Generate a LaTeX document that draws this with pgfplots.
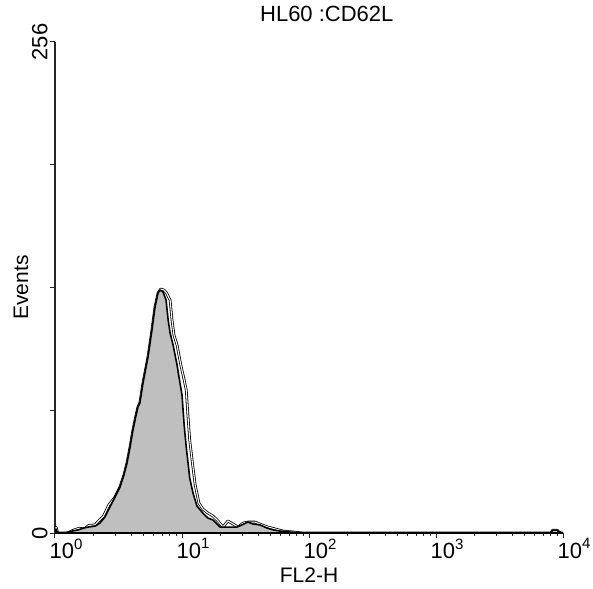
\documentclass[border=0pt]{standalone}
\usepackage{pgfplots}
\pgfplotsset{compat=1.18}
\usepackage{pgfplotstable}
\usepackage{fontspec}
\setmainfont{Liberation Sans}

\pgfplotstableread{
x y
1.00 0
1.018 2.1
1.05 0
1.20 0
1.36 1.0
1.52 1.6
1.69 2.6
1.82 3.1
2.07 3.6
2.26 5.2
2.47 8.3
2.71 13.6
2.97 18.8
3.25 24.0
3.49 30.2
3.69 36.5
3.90 44.8
4.11 53.7
4.35 61.5
4.50 65.7
4.66 67.8
4.93 78.2
5.40 91.8
5.80 105.8
6.13 117.8
6.48 125.1
6.72 126.7
7.09 125.7
7.49 121.5
7.78 111.1
8.06 104.3
8.51 98.0
9.14 87.6
9.64 78.2
10.0 72.0
10.4 56.3
10.8 44.8
11.2 35.5
11.5 28.7
12.2 20.9
13.1 14.1
14.6 10.4
16.0 7.8
17.5 6.8
19.9 3.1
23.9 3.1
27.1 3.1
29.6 4.2
33.0 5.7
36.2 4.7
41.1 4.2
46.7 2.6
52.2 1.6
59.3 1.0
71.0 0.5
85.0 0
8000 0
8300 1.5
9000 1.5
9300 0.5
9700 0
10000 0
}\filled

\pgfplotstableread{
x y
1.00 0
1.02 3
1.05 0
1.25 0
1.40 1.5
1.55 2.5
1.70 2.1
1.85 4.0
2.07 4.2
2.20 6.3
2.40 8.6
2.65 14.6
2.97 18.8
3.25 24.0
3.49 30.2
3.69 36.5
3.90 44.8
4.11 53.7
4.35 61.5
4.50 65.7
4.66 67.8
4.93 78.2
5.40 91.8
5.80 105.8
6.13 117.8
6.48 125.1
6.80 127.2
7.20 126.7
7.55 125.2
8.06 121.5
8.34 111.1
8.65 103.2
9.14 98.0
9.79 87.6
10.4 79.8
10.8 74.6
11.2 58.9
11.5 48.5
12.0 38.1
12.7 25.0
13.6 15.6
14.6 12.5
16.0 10.4
17.5 8.9
19.2 6.3
21.0 3.1
23.0 6.3
25.2 4.7
27.6 3.1
30.3 5.2
33.0 5.7
37.6 5.7
42.8 4.2
47.6 3.1
54.2 2.1
62.6 1.0
75.1 0.5
89.6 0
8000 0
8300 1.5
9000 1.5
9300 0.5
9700 0
10000 0
}\open

\newcommand{\sx}[1]{\raisebox{0.45em}{\fontsize{15}{16}\selectfont #1}}

\begin{document}
\begin{tikzpicture}
\begin{axis}[
  name=ax,
  scale only axis,
  width=508pt, height=491pt,
  xmode=log, xmin=1, xmax=10000,
  ymin=0, ymax=256,
  axis lines*=left,
  axis line style={black!85, line width=1.3pt},
  tick align=outside,
  major tick length=5pt, minor tick length=3pt,
  every tick/.style={black!85, line width=1pt},
  xtick={1,10,100,1000,10000},
  xticklabels={10\sx{0},10\sx{1},10\sx{2},10\sx{3},10\sx{4}},
  minor xtick={2,3,4,5,6,7,8,9,20,30,40,50,60,70,80,90,200,300,400,500,600,700,800,900,2000,3000,4000,5000,6000,7000,8000,9000},
  ytick={0,64,128,192,256},
  yticklabels={0,,,,256},
  tick label style={font=\fontsize{22}{26}\selectfont},
  xticklabel style={anchor=north west, xshift=-9pt, yshift=3pt},
  yticklabel style={rotate=90, anchor=south, yshift=-1pt},
  every axis x label/.style={at={(axis description cs:0.5,0)}, anchor=center, yshift=-42pt, font=\fontsize{21}{24}\selectfont},
  every axis y label/.style={at={(axis description cs:-0.067,0.5)}, rotate=90, anchor=center, font=\fontsize{21}{24}\selectfont},
  xlabel={FL2-H},
  ylabel={Events},
  title={HL60 :CD62L},
  title style={at={(axis description cs:0.535,1)}, anchor=center, yshift=22pt, font=\fontsize{22}{24}\selectfont},
]
\addplot[draw=black, line width=0.8pt, double=white, double distance=1.1pt, line join=round] table[x=x,y=y] {\open};
\addplot[draw=black, line width=1.6pt, fill=black!25, line join=round] table[x=x,y=y] {\filled} \closedcycle;
\end{axis}
\pgfresetboundingbox
\path (ax.south west) ++(-55pt,-55pt) rectangle ++(593pt,588pt);
\end{tikzpicture}
\end{document}
